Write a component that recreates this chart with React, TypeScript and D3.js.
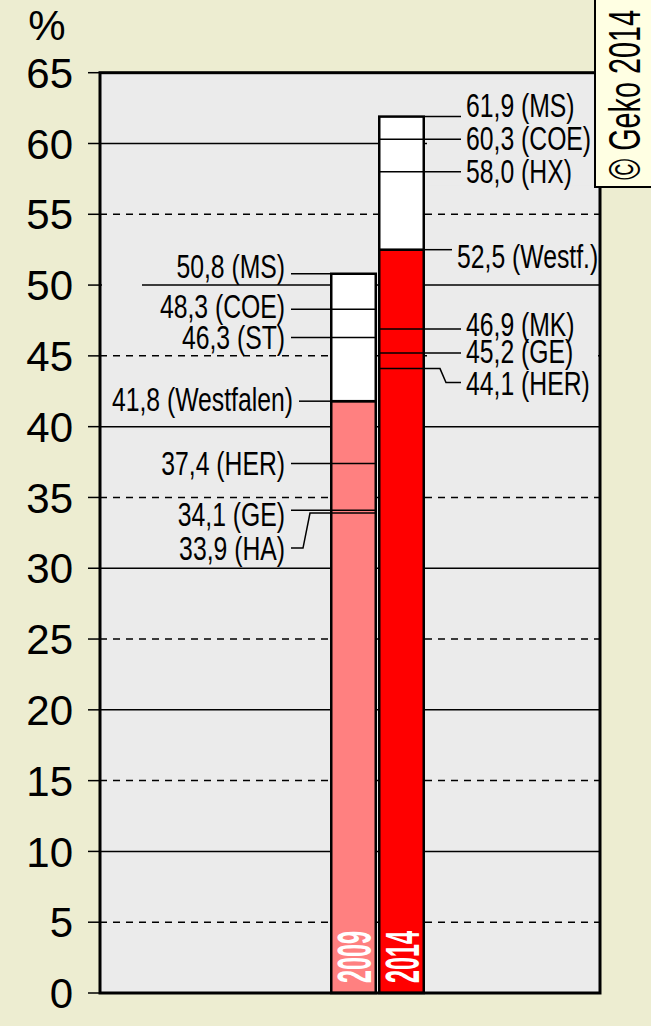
import { useEffect } from "react";
import * as d3 from "d3";

// Chart data
const yTicks = [0, 5, 10, 15, 20, 25, 30, 35, 40, 45, 50, 55, 60, 65];
const years = ["2009", "2014"];
const westfalen = [41.8, 52.5];
const highest = [50.8, 61.9];

const values2009 = [50.8, 48.3, 46.3, 41.8, 37.4, 34.1, 33.9];
const names2009 = ["MS", "COE", "ST", "Westfalen", "HER", "GE", "HA"];
const values2014 = [61.9, 60.3, 58.0, 52.5, 46.9, 45.2, 44.1];
const names2014 = ["MS", "COE", "HX", "Westf.", "MK", "GE", "HER"];

// label layout nudges (px), kept apart from the data
const dy2009 = [-8, -3, 0, -2, 0, 4, 35];
const dx2009 = [0, 0, 0, 8, 0, 0, 0];
const dy2014 = [-11, -1, -1, 6, -5, -2, 14];
const dx2014 = [0, 0, 0, -9, 0, 0, 0];
const elbow2009 = [false, false, false, false, false, false, true];
const elbow2014 = [false, false, false, false, false, false, true];

const W = 651;
const H = 1026;
const PAGE_BG = "#ededd1";
const PLOT_BG = "#ebebeb";
const COLORS = ["#ff8080", "#ff0000"];
const SANS = "'Liberation Sans', Arial, sans-serif";
const NARROW_X = 0.75; // tall condensed look: squeeze Liberation Sans horizontally

const fmt = (v: number) => d3.format(".1f")(v).replace(".", ",");

export default function App()
{
    useEffect(() =>
    {
        document.body.style.margin = "0";
        document.body.style.background = PAGE_BG;
    }, []);

    const m = { left: 100, right: 600, top: 72.7, bottom: 993 };
    const y = d3.scaleLinear().domain([0, 65]).range([m.bottom, m.top]);
    const x = d3.scaleBand<string>().domain(years).range([330, 426]);
    const bw = x.bandwidth();

    const x09 = x("2009")!;
    const x14 = x("2014")!;
    const bar09 = { l: x09, r: x09 + bw - 1 };
    const bar14 = { l: x14, r: x14 + bw - 1 };

    const leftEnd = bar09.l - 45;   // text right edge of 2009 labels
    const rightStart = bar14.r + 41; // text left edge of 2014 labels

    const left = values2009.map((v, i) =>
    {
        const vy = y(v);
        const ly = vy + dy2009[i];
        const tx = leftEnd + dx2009[i];
        const x0 = tx + 6;
        const toEdge = v === highest[0] || v === westfalen[0];
        const xEnd = toEdge ? bar09.l : bar09.r;
        const d = elbow2009[i]
            ? d3.line()([[x0, ly], [tx + 18, ly], [tx + 25, vy], [xEnd, vy]])
            : d3.line()([[x0, vy], [xEnd, vy]]);
        return { key: "l" + i, text: `${fmt(v)} (${names2009[i]})`, tx, ly, d };
    });

    const right = values2014.map((v, i) =>
    {
        const vy = y(v);
        const ly = vy + dy2014[i];
        const tx = rightStart + dx2014[i];
        const x1 = tx - 5;
        const toEdge = v === highest[1] || v === westfalen[1];
        const xStart = toEdge ? bar14.r : bar14.l;
        const d = elbow2014[i]
            ? d3.line()([[xStart, vy], [tx - 26, vy], [tx - 20, ly], [x1, ly]])
            : d3.line()([[xStart, vy], [x1, vy]]);
        return { key: "r" + i, text: `${fmt(v)} (${names2014[i]})`, tx, ly, d };
    });

    return (
        <svg width={W} height={H} style={{ position: "absolute", left: 0, top: 0, display: "block" }}>
            <rect width={W} height={H} fill={PAGE_BG} />
            <rect x={m.left} y={m.top} width={m.right - m.left} height={m.bottom - m.top} fill={PLOT_BG} />

            {/* grid */}
            {yTicks.filter((t) => t > 0 && t < 65).map((t) => (
                <line key={"g" + t} x1={m.left} x2={m.right} y1={y(t)} y2={y(t)}
                    stroke="#000" strokeWidth={1.5} strokeDasharray={t % 10 === 0 ? undefined : "7,6"} />
            ))}

            {/* label backgrounds hide the grid behind the 2014 labels */}
            {right.map((r) => (
                <rect key={"bg" + r.key} x={bar14.r + 2} y={r.ly - 15} width={m.right - bar14.r - 4} height={30} fill={PLOT_BG} />
            ))}
            <rect x={m.left + 2} y={y(50) - 2} width={40} height={4} fill={PLOT_BG} />

            {/* bars */}
            {years.map((yr, i) => (
                <g key={yr}>
                    <rect x={x(yr)! + 1.25} y={y(westfalen[i])} width={bw - 3.5} height={y(0) - y(westfalen[i])}
                        fill={COLORS[i]} stroke="#000" strokeWidth={2.5} />
                    <rect x={x(yr)! + 1.25} y={y(highest[i])} width={bw - 3.5} height={y(westfalen[i]) - y(highest[i])}
                        fill="#fff" stroke="#000" strokeWidth={2.5} />
                </g>
            ))}

            {/* leaders */}
            {[...left, ...right].map((l) => (
                <path key={"p" + l.key} d={l.d!} fill="none" stroke="#000" strokeWidth={1.5} />
            ))}

            {/* labels */}
            <g fontFamily={SANS} fontSize={33} fill="#000">
                {left.map((l) => (
                    <text key={"t" + l.key} transform={`translate(${l.tx},${l.ly}) scale(${NARROW_X},1)`}
                        dy="0.36em" textAnchor="end">{l.text}</text>
                ))}
                {right.map((r) => (
                    <text key={"t" + r.key} transform={`translate(${r.tx},${r.ly}) scale(${NARROW_X},1)`}
                        dy="0.36em" textAnchor="start">{r.text}</text>
                ))}
            </g>

            {/* year labels inside bars */}
            {years.map((yr) => (
                <text key={"y" + yr} transform={`translate(${x(yr)! + bw / 2 + 17},${y(0) - 10}) rotate(-90)`}
                    fontFamily={SANS} fontWeight="bold" fontSize={48} fill="#fff"
                    textLength={52} lengthAdjust="spacingAndGlyphs">{yr}</text>
            ))}

            {/* frame */}
            <rect x={m.left} y={m.top} width={m.right - m.left} height={m.bottom - m.top} fill="none" stroke="#000" strokeWidth={3} />

            {/* y axis */}
            {yTicks.map((t) => (
                <g key={"t" + t}>
                    <line x1={m.left - 12} x2={m.left} y1={y(t)} y2={y(t)} stroke="#000" strokeWidth={1.5} />
                    <text x={73} y={y(t)} dy="0.36em" textAnchor="end" fontFamily={SANS} fontSize={42} fill="#000">{t}</text>
                </g>
            ))}
            <text x={47} y={40} textAnchor="middle" fontFamily={SANS} fontSize={42} fill="#000">%</text>

            {/* copyright */}
            <rect x={595} y={-3} width={60} height={190} fill="#ffffe3" stroke="#000" strokeWidth={2} />
            <text transform="translate(640,95) rotate(-90)" textAnchor="middle" fontFamily={SANS} fontSize={44}
                fill="#000" textLength={170} lengthAdjust="spacingAndGlyphs">© Geko 2014</text>
        </svg>
    );
}
